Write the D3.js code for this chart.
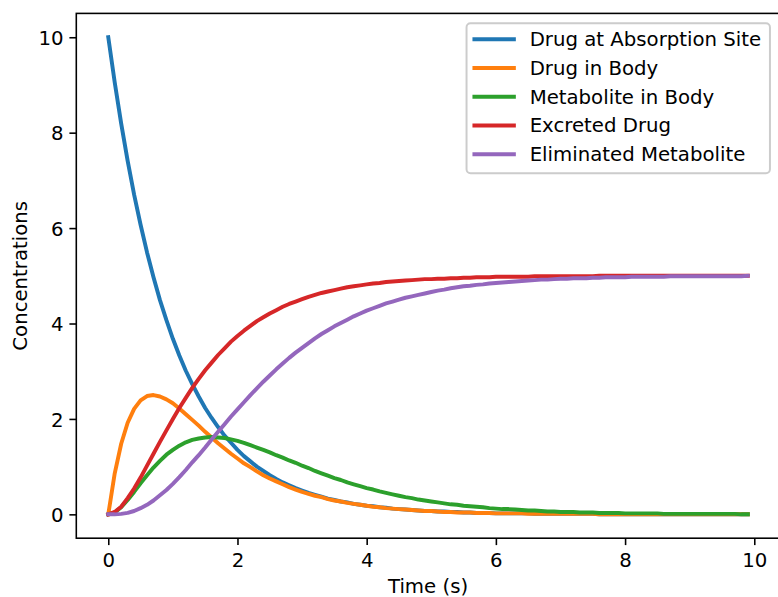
<!DOCTYPE html>
<html>
<head>
<meta charset="utf-8">
<script src="https://cdn.jsdelivr.net/npm/d3@7"></script>
<style>
  html, body { margin: 0; padding: 0; background: #ffffff; }
  svg { display: block; font-family: "DejaVu Sans", sans-serif; }
</style>
</head>
<body>
<svg id="chart" width="778" height="597"></svg>
<script>
// Sampling times (s)
const time = [
  0.0, 0.1, 0.2, 0.3, 0.4, 0.5, 0.6, 0.7, 0.8, 0.9,
  1.0, 1.1, 1.2, 1.3, 1.4, 1.5, 1.6, 1.7, 1.8, 1.9,
  2.0, 2.1, 2.2, 2.3, 2.4, 2.5, 2.6, 2.7, 2.8, 2.9,
  3.0, 3.1, 3.2, 3.3, 3.4, 3.5, 3.6, 3.7, 3.8, 3.9,
  4.0, 4.1, 4.2, 4.3, 4.4, 4.5, 4.6, 4.7, 4.8, 4.9,
  5.0, 5.1, 5.2, 5.3, 5.4, 5.5, 5.6, 5.7, 5.8, 5.9,
  6.0, 6.1, 6.2, 6.3, 6.4, 6.5, 6.6, 6.7, 6.8, 6.9,
  7.0, 7.1, 7.2, 7.3, 7.4, 7.5, 7.6, 7.7, 7.8, 7.9,
  8.0, 8.1, 8.2, 8.3, 8.4, 8.5, 8.6, 8.7, 8.8, 8.9,
  9.0, 9.1, 9.2, 9.3, 9.4, 9.5, 9.6, 9.7, 9.8, 9.9
];

// Concentration in each compartment at those times
const drugAtAbsorptionSite = [
  10.00, 9.05, 8.19, 7.41, 6.70, 6.07, 5.49, 4.97, 4.49, 4.07,
  3.68, 3.33, 3.01, 2.73, 2.47, 2.23, 2.02, 1.83, 1.65, 1.50,
  1.35, 1.22, 1.11, 1.00, 0.91, 0.82, 0.74, 0.67, 0.61, 0.55,
  0.50, 0.45, 0.41, 0.37, 0.33, 0.30, 0.27, 0.25, 0.22, 0.20,
  0.18, 0.17, 0.15, 0.14, 0.12, 0.11, 0.10, 0.09, 0.08, 0.07,
  0.07, 0.06, 0.06, 0.05, 0.05, 0.04, 0.04, 0.03, 0.03, 0.03,
  0.02, 0.02, 0.02, 0.02, 0.02, 0.02, 0.01, 0.01, 0.01, 0.01,
  0.01, 0.01, 0.01, 0.01, 0.01, 0.01, 0.00, 0.00, 0.00, 0.00,
  0.00, 0.00, 0.00, 0.00, 0.00, 0.00, 0.00, 0.00, 0.00, 0.00,
  0.00, 0.00, 0.00, 0.00, 0.00, 0.00, 0.00, 0.00, 0.00, 0.00
];

const drugInBody = [
  0.00, 0.86, 1.48, 1.92, 2.21, 2.39, 2.48, 2.50, 2.47, 2.41,
  2.33, 2.22, 2.10, 1.98, 1.86, 1.73, 1.61, 1.49, 1.38, 1.27,
  1.17, 1.07, 0.99, 0.90, 0.82, 0.75, 0.69, 0.63, 0.57, 0.52,
  0.47, 0.43, 0.39, 0.36, 0.32, 0.29, 0.27, 0.24, 0.22, 0.20,
  0.18, 0.16, 0.15, 0.13, 0.12, 0.11, 0.10, 0.09, 0.08, 0.07,
  0.07, 0.06, 0.05, 0.05, 0.04, 0.04, 0.04, 0.03, 0.03, 0.03,
  0.02, 0.02, 0.02, 0.02, 0.02, 0.01, 0.01, 0.01, 0.01, 0.01,
  0.01, 0.01, 0.01, 0.01, 0.01, 0.01, 0.00, 0.00, 0.00, 0.00,
  0.00, 0.00, 0.00, 0.00, 0.00, 0.00, 0.00, 0.00, 0.00, 0.00,
  0.00, 0.00, 0.00, 0.00, 0.00, 0.00, 0.00, 0.00, 0.00, 0.00
];

const metaboliteInBody = [
  0.00, 0.04, 0.15, 0.30, 0.47, 0.65, 0.82, 0.98, 1.12, 1.25,
  1.35, 1.44, 1.51, 1.56, 1.59, 1.61, 1.62, 1.61, 1.60, 1.57,
  1.54, 1.50, 1.45, 1.40, 1.35, 1.30, 1.24, 1.19, 1.13, 1.08,
  1.02, 0.97, 0.91, 0.86, 0.81, 0.76, 0.72, 0.67, 0.63, 0.59,
  0.55, 0.52, 0.48, 0.45, 0.42, 0.39, 0.36, 0.34, 0.31, 0.29,
  0.27, 0.25, 0.23, 0.21, 0.20, 0.18, 0.17, 0.16, 0.15, 0.13,
  0.12, 0.11, 0.11, 0.10, 0.09, 0.08, 0.08, 0.07, 0.06, 0.06,
  0.05, 0.05, 0.05, 0.04, 0.04, 0.04, 0.03, 0.03, 0.03, 0.03,
  0.02, 0.02, 0.02, 0.02, 0.02, 0.02, 0.01, 0.01, 0.01, 0.01,
  0.01, 0.01, 0.01, 0.01, 0.01, 0.01, 0.01, 0.01, 0.00, 0.00
];

const excretedDrug = [
  0.00, 0.05, 0.16, 0.34, 0.54, 0.77, 1.02, 1.27, 1.52, 1.76,
  2.00, 2.23, 2.44, 2.65, 2.84, 3.02, 3.18, 3.34, 3.48, 3.62,
  3.74, 3.85, 3.95, 4.05, 4.13, 4.21, 4.28, 4.35, 4.41, 4.46,
  4.51, 4.56, 4.60, 4.64, 4.67, 4.70, 4.73, 4.76, 4.78, 4.80,
  4.82, 4.84, 4.85, 4.87, 4.88, 4.89, 4.90, 4.91, 4.92, 4.93,
  4.93, 4.94, 4.94, 4.95, 4.95, 4.96, 4.96, 4.97, 4.97, 4.97,
  4.98, 4.98, 4.98, 4.98, 4.98, 4.98, 4.99, 4.99, 4.99, 4.99,
  4.99, 4.99, 4.99, 4.99, 4.99, 4.99, 5.00, 5.00, 5.00, 5.00,
  5.00, 5.00, 5.00, 5.00, 5.00, 5.00, 5.00, 5.00, 5.00, 5.00,
  5.00, 5.00, 5.00, 5.00, 5.00, 5.00, 5.00, 5.00, 5.00, 5.00
];

const eliminatedMetabolite = [
  0.00, 0.00, 0.01, 0.03, 0.07, 0.13, 0.20, 0.29, 0.40, 0.51,
  0.64, 0.78, 0.93, 1.09, 1.24, 1.40, 1.57, 1.73, 1.89, 2.05,
  2.20, 2.35, 2.50, 2.64, 2.78, 2.91, 3.04, 3.16, 3.28, 3.39,
  3.49, 3.59, 3.69, 3.78, 3.86, 3.94, 4.01, 4.08, 4.15, 4.21,
  4.27, 4.32, 4.37, 4.42, 4.46, 4.50, 4.54, 4.57, 4.60, 4.63,
  4.66, 4.69, 4.71, 4.74, 4.76, 4.78, 4.79, 4.81, 4.82, 4.84,
  4.85, 4.86, 4.87, 4.88, 4.89, 4.90, 4.91, 4.92, 4.92, 4.93,
  4.94, 4.94, 4.95, 4.95, 4.95, 4.96, 4.96, 4.97, 4.97, 4.97,
  4.97, 4.98, 4.98, 4.98, 4.98, 4.98, 4.98, 4.99, 4.99, 4.99,
  4.99, 4.99, 4.99, 4.99, 4.99, 4.99, 4.99, 4.99, 4.99, 5.00
];

const seriesNames = [
  "Drug at Absorption Site",
  "Drug in Body",
  "Metabolite in Body",
  "Excreted Drug",
  "Eliminated Metabolite"
];
const seriesColors = ["#1f77b4", "#ff7f0e", "#2ca02c", "#d62728", "#9467bd"];
const seriesValues = [
  drugAtAbsorptionSite, drugInBody, metaboliteInBody, excretedDrug, eliminatedMetabolite
];

const xTicks = [0, 2, 4, 6, 8, 10];
const yTicks = [0, 2, 4, 6, 8, 10];
const xLabel = "Time (s)";
const yLabel = "Concentrations";

// ---- layout ----
const pt = 142 / 72;                 // one typographic point in pixels
const fontSize = 10 * pt;
const plot = { left: 76.3, top: 13.4, right: 779.8, bottom: 538.2 };
const tickLen = 3.5 * pt;
const tickPad = 3.5 * pt;
const spineW = 0.8 * pt;
const lineW = 2 * pt;

const svg = d3.select("#chart");
svg.append("rect").attr("width", 778).attr("height", 597).attr("fill", "#ffffff");

// data range plus 5% margins on each side
const xExt = [d3.min(time), d3.max(time)];
const xPad = (xExt[1] - xExt[0]) * 0.05;
const yMax = d3.max(seriesValues, s => d3.max(s));
const yMin = d3.min(seriesValues, s => d3.min(s));
const yPad = (yMax - yMin) * 0.05;

const x = d3.scaleLinear()
  .domain([xExt[0] - xPad, xExt[1] + xPad])
  .range([plot.left, plot.right]);
const y = d3.scaleLinear()
  .domain([yMin - yPad, yMax + yPad])
  .range([plot.bottom, plot.top]);

// ---- curves ----
const clipId = "plot-clip";
svg.append("clipPath").attr("id", clipId)
  .append("rect")
  .attr("x", plot.left).attr("y", plot.top)
  .attr("width", plot.right - plot.left).attr("height", plot.bottom - plot.top);

const line = d3.line()
  .x((d, i) => x(time[i]))
  .y(d => y(d));

const curves = svg.append("g").attr("clip-path", `url(#${clipId})`);
seriesValues.forEach((vals, k) => {
  curves.append("path")
    .datum(vals)
    .attr("d", line)
    .attr("fill", "none")
    .attr("stroke", seriesColors[k])
    .attr("stroke-width", lineW)
    .attr("stroke-linecap", "square")
    .attr("stroke-linejoin", "round");
});

// ---- axes ----
const xAxis = d3.axisBottom(x)
  .tickValues(xTicks)
  .tickFormat(d3.format("d"))
  .tickSize(tickLen)
  .tickSizeOuter(0)
  .tickPadding(tickPad);
const yAxis = d3.axisLeft(y)
  .tickValues(yTicks)
  .tickFormat(d3.format("d"))
  .tickSize(tickLen)
  .tickSizeOuter(0)
  .tickPadding(tickPad);

const gx = svg.append("g")
  .attr("transform", `translate(0,${plot.bottom})`)
  .call(xAxis);
const gy = svg.append("g")
  .attr("transform", `translate(${plot.left},0)`)
  .call(yAxis);

[gx, gy].forEach(g => {
  g.select(".domain").remove();
  g.selectAll(".tick line").attr("stroke", "#000").attr("stroke-width", spineW);
  g.selectAll(".tick text")
    .attr("fill", "#000")
    .style("font-size", fontSize + "px")
    .style("font-family", "DejaVu Sans, sans-serif");
});
gx.selectAll(".tick text").attr("dy", "0.74em");
gy.selectAll(".tick text").attr("x", -(tickLen + tickPad) + 1).attr("dy", "0.36em");

// spines
svg.append("rect")
  .attr("x", plot.left).attr("y", plot.top)
  .attr("width", plot.right - plot.left).attr("height", plot.bottom - plot.top)
  .attr("fill", "none")
  .attr("stroke", "#000")
  .attr("stroke-width", spineW);

// axis titles
svg.append("text")
  .attr("x", (plot.left + plot.right) / 2)
  .attr("y", 592.7)
  .attr("text-anchor", "middle")
  .style("font-size", fontSize + "px")
  .attr("fill", "#000")
  .text(xLabel);

svg.append("text")
  .attr("transform", `translate(27,${(plot.top + plot.bottom) / 2}) rotate(-90)`)
  .attr("text-anchor", "middle")
  .style("font-size", fontSize + "px")
  .attr("fill", "#000")
  .text(yLabel);

// ---- legend ----
const lg = { right: plot.right - 0.5 * fontSize, top: plot.top + 0.5 * fontSize, width: 303.4, height: 150 };
const legend = svg.append("g");
legend.append("rect")
  .attr("x", lg.right - lg.width).attr("y", lg.top)
  .attr("width", lg.width).attr("height", lg.height)
  .attr("rx", 0.2 * fontSize).attr("ry", 0.2 * fontSize)
  .attr("fill", "#ffffff").attr("fill-opacity", 0.8)
  .attr("stroke", "#cccccc").attr("stroke-width", pt);

const rowStep = 28.75;
const handleX0 = lg.right - lg.width + 0.4 * fontSize;
const handleX1 = handleX0 + 2 * fontSize;
const textX = handleX1 + 0.8 * fontSize;
seriesNames.forEach((name, k) => {
  const cy = 39.3 + k * rowStep;
  legend.append("line")
    .attr("x1", handleX0).attr("x2", handleX1)
    .attr("y1", cy).attr("y2", cy)
    .attr("stroke", seriesColors[k])
    .attr("stroke-width", lineW)
    .attr("stroke-linecap", "square");
  legend.append("text")
    .attr("x", textX).attr("y", cy + 6.7)
    .style("font-size", fontSize + "px")
    .attr("fill", "#000")
    .text(name);
});
</script>
</body>
</html>
